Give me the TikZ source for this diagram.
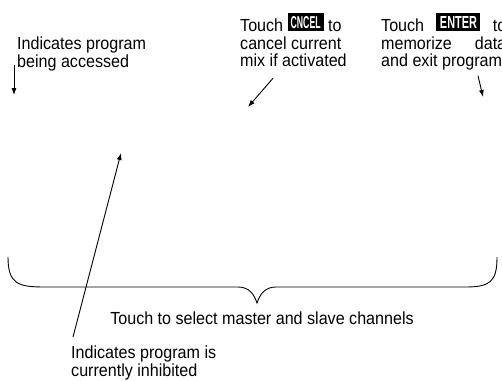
\documentclass[tikz,border=0pt]{standalone}
\usepackage{fontspec}
\setmainfont[FakeStretch=0.92]{Liberation Sans}
\usepackage{graphicx}
\usetikzlibrary{arrows.meta, positioning}

% black key caps printed inside the notes
\newcommand{\keylabel}[3]{%
  \smash{\raisebox{1pt}{\setlength{\fboxsep}{0pt}\colorbox{black}{\makebox[#1]{\rule{0pt}{18pt}\raisebox{2pt}{\textcolor{white}{\resizebox{#2}{12pt}{\bfseries #3}}}}}}}}

\begin{document}
\begin{tikzpicture}[
    x=1pt, y=-1pt,
    font=\fontsize{17.5}{17.5}\selectfont,
    >=Latex,
    note/.style={inner sep=0pt, align=left, anchor=north west},
    justnote/.style={note, align=justify, text width=125pt},
    arrow/.style={-{Latex[length=7pt,width=5pt]}, line width=0.9pt},
    brace/.style={line width=0.9pt}
]
\useasboundingbox (0,0) rectangle (502,380);

\node[note] (accessed) at (17,37) {Indicates program\\being accessed};
\node[note] (cancel) at (240,19) {Touch \keylabel{36pt}{30pt}{CNCEL} to\\cancel current\\mix if activated};
\node[justnote] (exit) at (381,19) {Touch \keylabel{44pt}{37pt}{ENTER} to memorize data and exit program};
\node[anchor=north, inner sep=0pt] (select) at (262,312) {Touch to select master and slave channels};
\node[note] (inhibited) at (71,346) {Indicates program is\\currently inhibited};

\coordinate (accessedtip) at (14,95);
\coordinate (cancieltip) at (248,107);
\coordinate (exittip) at (483,97);
\coordinate (inhibitedtip) at (121,153);

\draw[arrow] ([xshift=-3pt,yshift=6pt]accessed.south west) -- (accessedtip);
\draw[arrow] ([xshift=33pt,yshift=-11pt]cancel.south west) -- (cancieltip);
\draw[arrow] ([xshift=97pt,yshift=-5pt]exit.south west) -- (exittip);
\draw[arrow] ([xshift=2pt,yshift=9pt]inhibited.north west) -- (inhibitedtip);

% brace over the channel keys
\coordinate (braceleft) at (8,257);
\coordinate (bracetip) at (257,303);
\coordinate (braceright) at (497,257);
\draw[brace] (braceleft) .. controls (8,284) and (18,287) .. (45,287)
    -- (238,287) .. controls (249,287) and (254,294) .. (bracetip)
    .. controls (260,294) and (265,287) .. (276,287)
    -- (465,287) .. controls (490,287) and (497,282) .. (braceright);

\end{tikzpicture}
\end{document}
